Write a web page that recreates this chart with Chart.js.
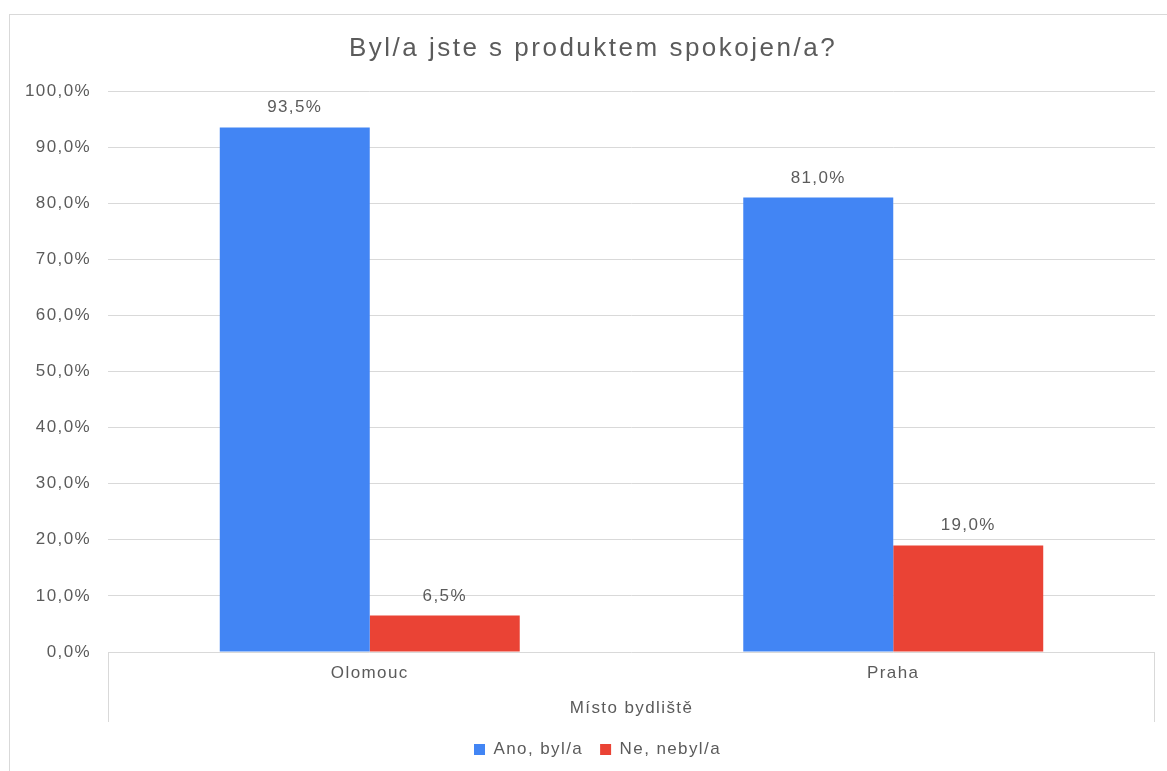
<!DOCTYPE html>
<html>
<head>
<meta charset="utf-8">
<script src="https://cdn.jsdelivr.net/npm/chart.js@4"></script>
<style>
html,body{margin:0;padding:0;background:#fff;}
#wrap{width:1167px;height:771px;position:relative;}
</style>
</head>
<body>
<div id="wrap"><canvas id="c" width="1167" height="771"></canvas></div>
<script>
const chartTitle = 'Byl/a jste s produktem spokojen/a?';
const categories = ['Olomouc', 'Praha'];
const seriesNames = ['Ano, byl/a', 'Ne, nebyl/a'];
const anoValues = [93.5, 81.0];
const neValues = [6.5, 19.0];
const xAxisTitle = 'Místo bydliště';
const yMin = 0, yMax = 100, yStep = 10;

const TEXT = '#5b5b5b';
const GRID = '#d9d9d9';
const SP = '1.4px';
const fmt = v => v.toFixed(1).replace('.', ',') + '%';

Chart.defaults.font.family = '"Liberation Sans", Arial, sans-serif';
Chart.defaults.color = TEXT;

const spacingPlugin = {
  id: 'spacing',
  beforeInit(chart) { chart.ctx.letterSpacing = SP; },
  beforeLayout(chart) { chart.ctx.letterSpacing = SP; },
  afterLayout(chart) {
    if (chart.legend) { chart.legend.left = 40; }
  },
  beforeDraw(chart) {
    const ctx = chart.ctx;
    ctx.letterSpacing = SP;
    ctx.save();
    ctx.fillStyle = '#fff';
    ctx.fillRect(0, 0, chart.width, chart.height);
    ctx.strokeStyle = GRID;
    ctx.lineWidth = 1;
    ctx.strokeRect(9.5, 14.5, 1300, 900);
    ctx.restore();
  }
};

const decorPlugin = {
  id: 'decor',
  afterDraw(chart) {
    const ctx = chart.ctx;
    const a = chart.chartArea;
    ctx.save();
    ctx.strokeStyle = GRID;
    ctx.lineWidth = 1;
    ctx.beginPath();
    ctx.moveTo(Math.round(a.left) + 0.5, a.bottom);
    ctx.lineTo(Math.round(a.left) + 0.5, a.bottom + 70);
    ctx.moveTo(Math.round(a.right) - 0.5, a.bottom);
    ctx.lineTo(Math.round(a.right) - 0.5, a.bottom + 70);
    ctx.stroke();
    ctx.letterSpacing = '2.5px';
    ctx.font = '26px "Liberation Sans", Arial, sans-serif';
    ctx.fillStyle = TEXT;
    ctx.textAlign = 'center';
    ctx.textBaseline = 'alphabetic';
    ctx.fillText(chartTitle, 593, 56);
    ctx.restore();
    ctx.letterSpacing = SP;
  },
  afterDatasetsDraw(chart) {
    const ctx = chart.ctx;
    ctx.save();
    ctx.letterSpacing = SP;
    ctx.font = '17px "Liberation Sans", Arial, sans-serif';
    ctx.fillStyle = TEXT;
    ctx.textAlign = 'center';
    ctx.textBaseline = 'alphabetic';
    chart.data.datasets.forEach((ds, di) => {
      const meta = chart.getDatasetMeta(di);
      meta.data.forEach((el, i) => {
        ctx.fillText(fmt(ds.data[i]), el.x, el.y - 15);
      });
    });
    ctx.restore();
  }
};

new Chart(document.getElementById('c'), {
  type: 'bar',
  data: {
    labels: categories,
    datasets: [
      { label: seriesNames[0], data: anoValues, backgroundColor: '#4285f4', borderWidth: 0 },
      { label: seriesNames[1], data: neValues, backgroundColor: '#ea4335', borderWidth: 0 }
    ]
  },
  options: {
    responsive: false,
    animation: false,
    devicePixelRatio: 1,
    layout: { padding: { left: 0, right: 12, top: 91, bottom: 3 } },
    categoryPercentage: 0.573,
    barPercentage: 1,
    plugins: {
      legend: {
        position: 'bottom',
        labels: { boxWidth: 11, boxHeight: 11, padding: 17, font: { size: 17 }, color: TEXT }
      },
      title: { display: false },
      tooltip: { enabled: false }
    },
    scales: {
      x: {
        grid: { display: false, drawTicks: false },
        border: { display: false },
        ticks: { font: { size: 17 }, color: TEXT, padding: 11 },
        title: { display: true, text: xAxisTitle, font: { size: 17 }, color: TEXT, padding: { top: 4, bottom: 5 } },
        afterFit(s) { s.height = 72; }
      },
      y: {
        min: yMin, max: yMax,
        ticks: { stepSize: yStep, font: { size: 17 }, color: TEXT, padding: 17, callback: v => fmt(v) },
        grid: { color: GRID, lineWidth: 1, drawTicks: false },
        border: { display: false },
        afterFit(s) { s.width = 108; }
      }
    }
  },
  plugins: [spacingPlugin, decorPlugin]
});
</script>
</body>
</html>
